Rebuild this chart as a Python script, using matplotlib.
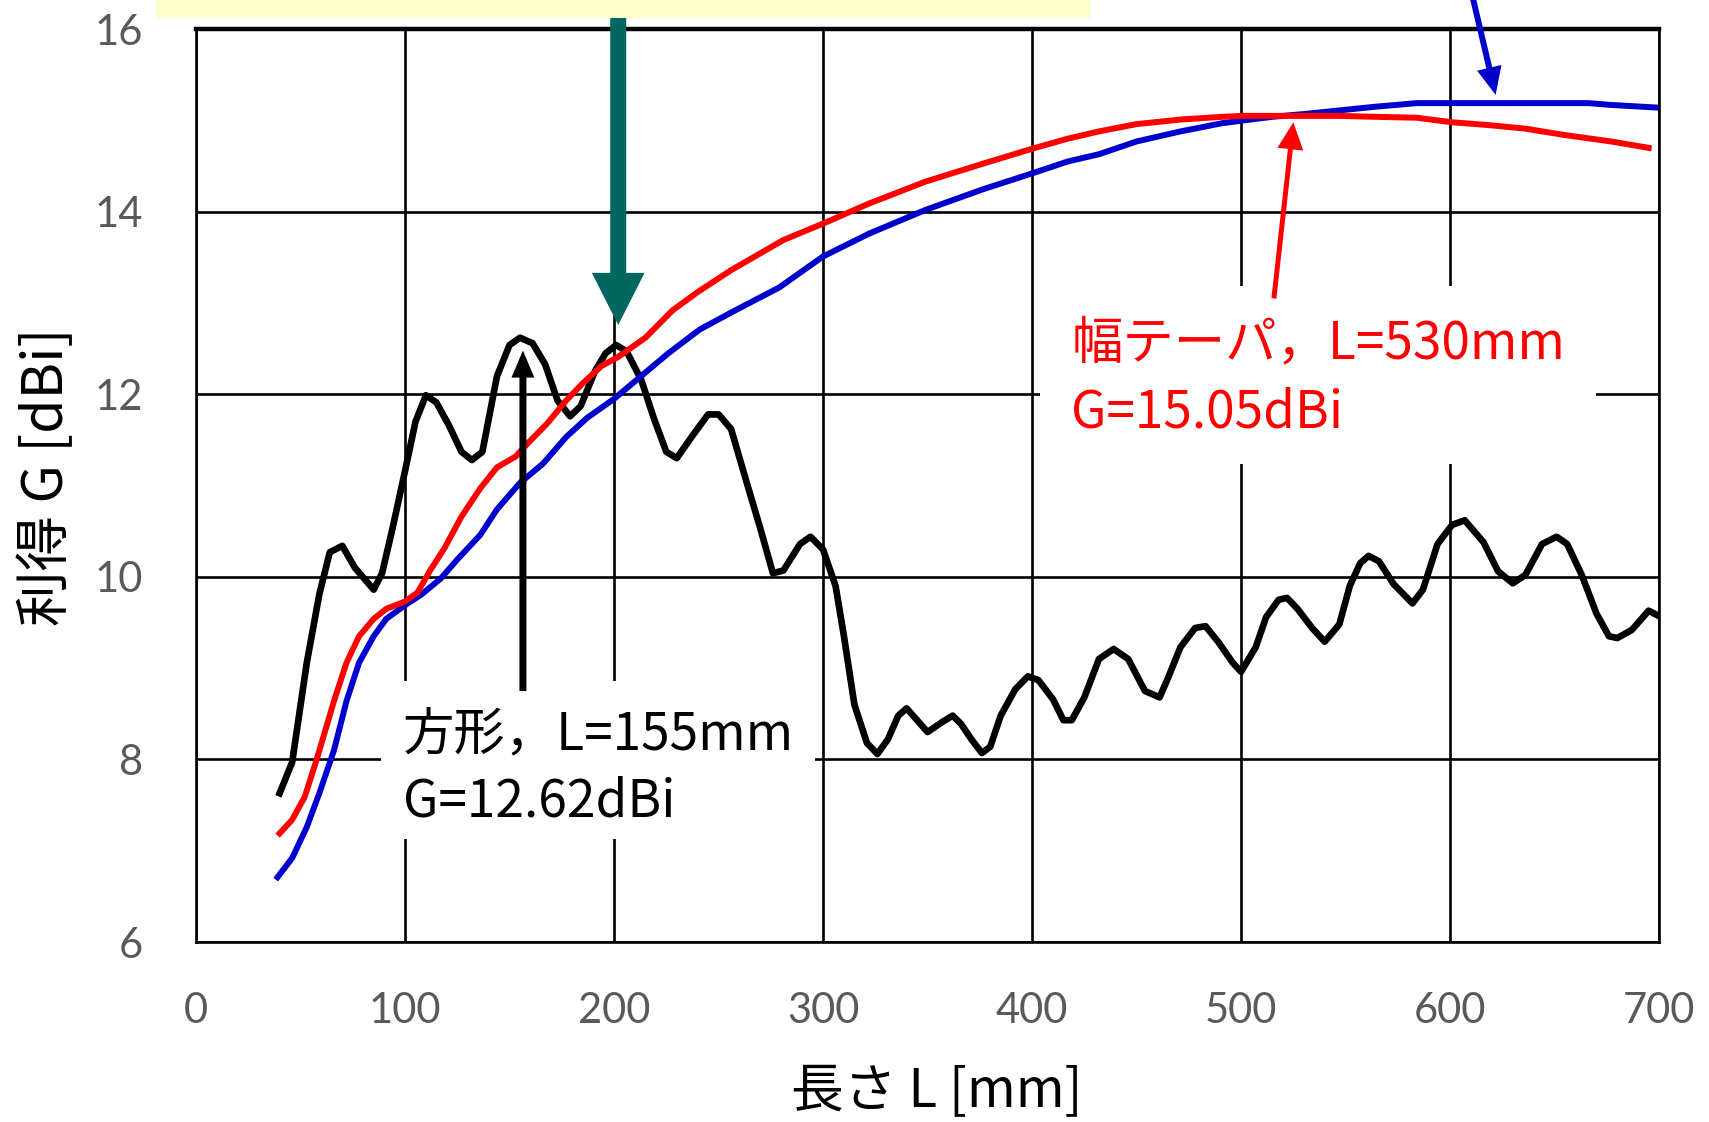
import matplotlib
matplotlib.use("Agg")
import matplotlib.pyplot as plt
from matplotlib.patches import Rectangle

plt.rcParams['font.family'] = ['Noto Sans CJK JP', 'DejaVu Sans']

# 方形 (square horn)
L_square = [40, 46, 53, 59, 64, 70, 76, 85, 89, 94, 100, 105, 110, 115, 121, 127,
            132, 137, 144, 150, 155, 161, 167, 173, 179, 184, 191, 196, 201, 206,
            213, 219, 225, 230, 237, 245, 250, 256, 263, 270, 276, 281, 289, 294,
            300, 306, 310, 315, 321, 326, 331, 336, 340, 345, 350, 357, 362, 366,
            371, 376, 380, 385, 392, 398, 403, 410, 415, 419, 425, 432, 439, 446,
            454, 461, 465, 471, 478, 483, 489, 496, 500, 507, 512, 518, 522, 527,
            534, 540, 547, 552, 557, 561, 566, 573, 582, 587, 594, 601, 607, 616,
            623, 630, 636, 644, 651, 656, 663, 670, 676, 680, 687, 695, 700]
G_square = [7.63, 7.97, 9.06, 9.81, 10.27, 10.34, 10.10, 9.86, 10.04, 10.53, 11.16,
            11.70, 11.99, 11.91, 11.66, 11.37, 11.28, 11.37, 12.20, 12.54, 12.62,
            12.56, 12.33, 11.93, 11.76, 11.87, 12.26, 12.45, 12.54, 12.47, 12.16,
            11.74, 11.37, 11.30, 11.53, 11.78, 11.78, 11.62, 11.07, 10.53, 10.04,
            10.07, 10.36, 10.44, 10.30, 9.90, 9.35, 8.60, 8.18, 8.06, 8.22, 8.48,
            8.56, 8.43, 8.30, 8.41, 8.48, 8.39, 8.22, 8.07, 8.14, 8.48, 8.77, 8.91,
            8.87, 8.66, 8.43, 8.43, 8.68, 9.10, 9.21, 9.10, 8.75, 8.68, 8.89, 9.23,
            9.44, 9.46, 9.29, 9.06, 8.96, 9.23, 9.56, 9.75, 9.77, 9.65, 9.44, 9.29,
            9.48, 9.90, 10.15, 10.23, 10.17, 9.92, 9.71, 9.86, 10.36, 10.57, 10.62,
            10.38, 10.06, 9.93, 10.02, 10.36, 10.44, 10.36, 10.02, 9.60, 9.35, 9.33,
            9.42, 9.63, 9.57]

# 幅テーパ (width taper)
L_width = [40, 46, 52, 58, 66, 72, 78, 85, 91, 100, 106, 112, 119, 127, 136, 144,
           153, 159, 168, 177, 185, 194, 202, 215, 228, 240, 256, 281, 300, 322,
           349, 377, 400, 417, 432, 450, 471, 491, 501, 515, 530, 547, 564, 584,
           601, 618, 636, 655, 677, 695]
G_width = [7.19, 7.34, 7.59, 8.02, 8.64, 9.06, 9.35, 9.54, 9.65, 9.73, 9.83, 10.07,
           10.32, 10.66, 10.97, 11.20, 11.32, 11.47, 11.68, 11.93, 12.12, 12.31,
           12.41, 12.62, 12.92, 13.12, 13.36, 13.69, 13.87, 14.09, 14.33, 14.53,
           14.69, 14.80, 14.88, 14.96, 15.01, 15.04, 15.05, 15.05, 15.05, 15.05,
           15.04, 15.03, 14.98, 14.95, 14.91, 14.84, 14.77, 14.70]

# blue curve
L_blue = [39, 46, 53, 59, 66, 72, 78, 85, 91, 100, 108, 117, 125, 136, 144, 155,
          166, 177, 187, 200, 213, 226, 241, 258, 279, 300, 322, 349, 377, 400,
          417, 432, 450, 471, 491, 501, 515, 530, 547, 564, 584, 601, 623, 666,
          677, 700]
G_blue = [6.71, 6.92, 7.26, 7.63, 8.10, 8.64, 9.06, 9.35, 9.54, 9.69, 9.81, 9.98,
          10.19, 10.46, 10.74, 11.03, 11.24, 11.53, 11.74, 11.95, 12.20, 12.45,
          12.71, 12.92, 13.17, 13.51, 13.76, 14.02, 14.25, 14.42, 14.55, 14.63,
          14.77, 14.88, 14.97, 15.00, 15.04, 15.07, 15.11, 15.15, 15.19, 15.19,
          15.19, 15.19, 15.17, 15.14]

x_ticks = [0, 100, 200, 300, 400, 500, 600, 700]
y_ticks = [6, 8, 10, 12, 14, 16]

fig = plt.figure(figsize=(17.09, 11.22), dpi=100)
ax = fig.add_axes([0.1147, 0.1604, 0.8561, 0.8136])

# light yellow strip at the very top (cut-off title box)
fig.patches.append(Rectangle((0.0913, 0.984), 0.547, 0.02,
                             transform=fig.transFigure,
                             facecolor='#FFFFCC', edgecolor='none'))

ax.plot(L_square, G_square, color='black', lw=4.8, zorder=2)
ax.plot(L_blue, G_blue, color='#0000CC', lw=4.3, zorder=2.1)
ax.plot(L_width, G_width, color='#FF0000', lw=4.3, zorder=2.2)

ax.set_xlim(0, 700)
ax.set_ylim(6, 16)
ax.set_xticks(x_ticks)
ax.set_yticks(y_ticks)
ax.set_axisbelow(True)
ax.grid(True, color='black', lw=1.9)
for side in ['left', 'bottom', 'right']:
    ax.spines[side].set_color('black')
    ax.spines[side].set_linewidth(1.9)
ax.spines['top'].set_linewidth(3.2)

ax.tick_params(length=0, labelsize=30, labelcolor='#595959')
ax.tick_params(axis='x', pad=36)
ax.tick_params(axis='y', pad=38)
for lab in ax.get_xticklabels() + ax.get_yticklabels():
    lab.set_family('Lato')

ax.set_xlabel('長さ L [mm]', fontsize=38)
ax.set_ylabel('利得 G [dBi]', fontsize=40)
ax.xaxis.set_label_coords(0.506, -0.134)
ax.yaxis.set_label_coords(-0.082, 0.51)

# text boxes
ax.add_patch(Rectangle((88.5, 7.13), 207.5, 1.73, facecolor='white',
                       edgecolor='none', zorder=1))
ax.text(99, 8.11, '方形，L=155mm', fontsize=37, color='black', zorder=4)
ax.text(99, 7.38, 'G=12.62dBi', fontsize=37, color='black', zorder=4)

ax.add_patch(Rectangle((404, 11.24), 266, 1.95, facecolor='white',
                       edgecolor='none', zorder=1))
ax.text(418.7, 12.39, '幅テーパ，L=530mm', fontsize=37, color='red', zorder=4)
ax.text(418.7, 11.64, 'G=15.05dBi', fontsize=37, color='red', zorder=4)

# arrows
def arrow(tail, head, color, tw, hw, hl):
    ax.annotate('', xy=head, xytext=tail, annotation_clip=False, zorder=5,
                arrowprops=dict(arrowstyle=f'simple,head_length={hl},head_width={hw},tail_width={tw}',
                                mutation_scale=1, shrinkA=0, shrinkB=0,
                                facecolor=color, edgecolor='none'))

arrow((156.4, 8.75), (156.4, 12.48), 'black', 5, 16.5, 19.5)
arrow((515.7, 13.05), (525, 14.98), '#FF0000', 3.6, 18.7, 19.5)
arrow((610.8, 16.35), (621.8, 15.28), '#0000CC', 4.3, 18, 20)
arrow((202, 16.23), (202, 12.76), '#006660', 11.5, 38, 37.5)

fig.savefig('out.png', dpi=100)
